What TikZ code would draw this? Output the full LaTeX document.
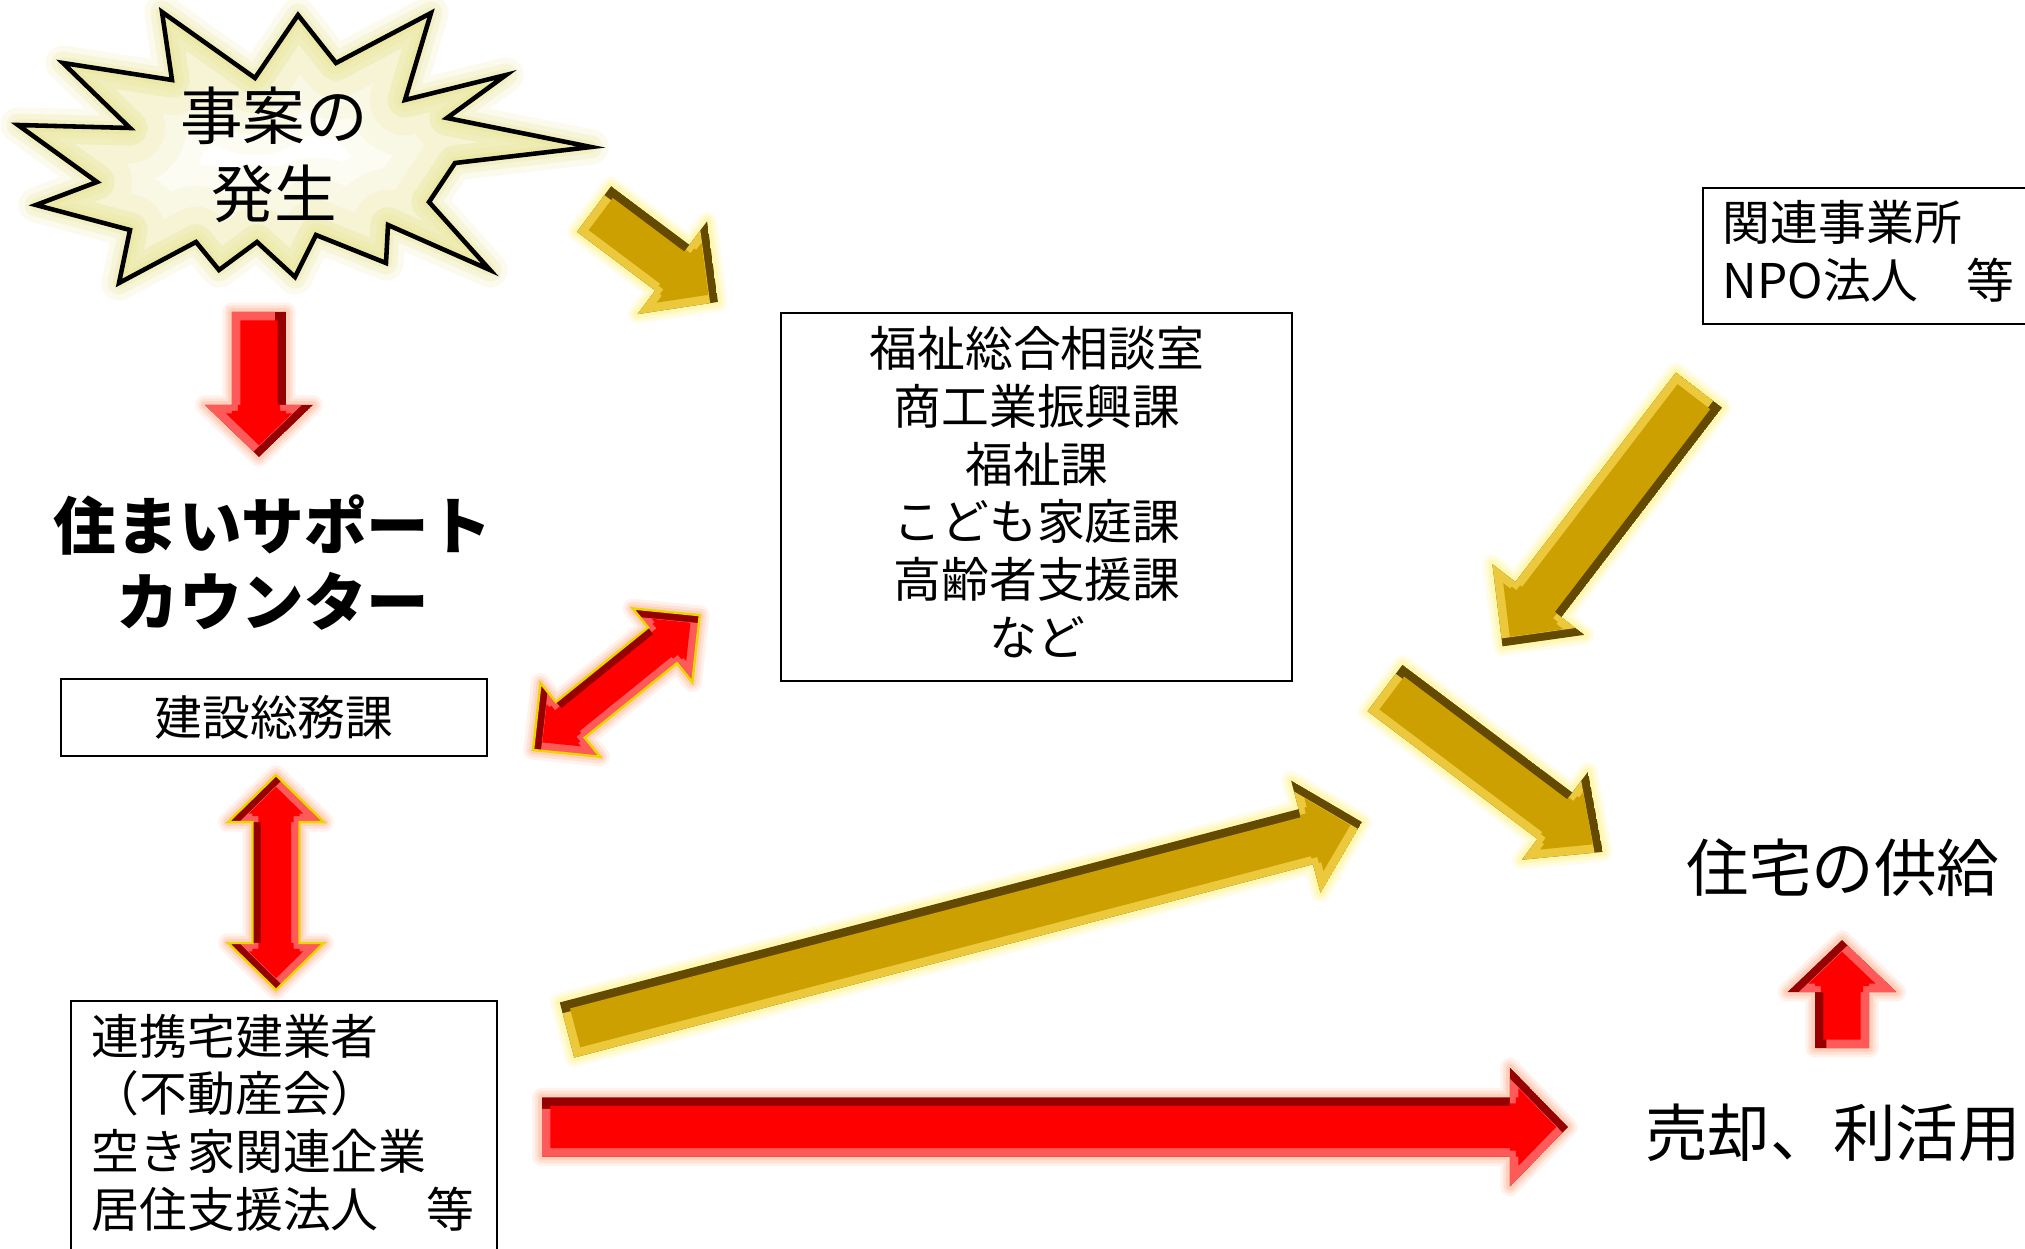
\documentclass[tikz,border=0pt]{standalone}
\usepackage{fontspec}
\setmainfont{Noto Sans CJK JP}
\usetikzlibrary{calc}
\definecolor{goldmain}{RGB}{204,160,0}
\definecolor{golddark}{RGB}{100,74,0}
\definecolor{goldlight}{RGB}{236,200,60}
\definecolor{goldglow}{RGB}{255,245,140}
\definecolor{redmain}{RGB}{255,0,0}
\definecolor{reddark}{RGB}{150,0,0}
\definecolor{redlight}{RGB}{255,90,90}
\definecolor{redglow}{RGB}{255,185,155}
\definecolor{burstglow}{RGB}{232,228,140}
\definecolor{edgeyellow}{RGB}{235,215,0}
\newcommand\fsS{\fontsize{13.6pt}{16.4pt}\selectfont}
\newcommand\fsL{\fontsize{17.8pt}{21.6pt}\selectfont}
\newcommand\fsB{\fontsize{17.8pt}{22pt}\selectfont}
% single block arrow outline: #1 tail, #2 tip, #3 shaft px, #4 head px, #5 head length px, #6 local shift
\newcommand\polyS[6]{let \p1=($(#2)-(#1)$), \n1={veclen(\x1,\y1)}, \n2={atan2(\y1,\x1)} in
  [shift={(#1)}, rotate=\n2, shift={(#6)}]
  (0pt,{#3*0.14226pt}) -- ({\n1-#5*0.28453pt},{#3*0.14226pt}) -- ({\n1-#5*0.28453pt},{#4*0.14226pt}) -- (\n1,0pt) -- ({\n1-#5*0.28453pt},{-#4*0.14226pt}) -- ({\n1-#5*0.28453pt},{-#3*0.14226pt}) -- (0pt,{-#3*0.14226pt}) -- cycle}
% double block arrow outline
\newcommand\polyD[6]{let \p1=($(#2)-(#1)$), \n1={veclen(\x1,\y1)}, \n2={atan2(\y1,\x1)} in
  [shift={(#1)}, rotate=\n2, shift={(#6)}]
  (0pt,0pt) -- ({#5*0.28453pt},{#4*0.14226pt}) -- ({#5*0.28453pt},{#3*0.14226pt}) -- ({\n1-#5*0.28453pt},{#3*0.14226pt}) -- ({\n1-#5*0.28453pt},{#4*0.14226pt}) -- (\n1,0pt) -- ({\n1-#5*0.28453pt},{-#4*0.14226pt}) -- ({\n1-#5*0.28453pt},{-#3*0.14226pt}) -- ({#5*0.28453pt},{-#3*0.14226pt}) -- ({#5*0.28453pt},{-#4*0.14226pt}) -- cycle}
% bevelled, glowing block arrow
\newcommand\bevelarrow[8]{%
  \foreach \gw/\go in {5.5/0.18,3.8/0.28,2.2/0.4}
    {\draw[#1glow, line width=\gw pt, opacity=\go, line join=round] #2{#3}{#4}{#5}{#6}{#7}{0pt,0pt};}
  \begin{scope}
    \clip #2{#3}{#4}{#5}{#6}{#7}{0pt,0pt};
    \fill[#1dark] #2{#3}{#4}{#5}{#6}{#7}{0pt,0pt};
    \fill[#1light] #2{#3}{#4}{#5}{#6}{#7}{0pt,-3.2pt};
    \begin{scope}
      \clip #2{#3}{#4}{#5}{#6}{#7}{2.4pt,0pt};
      \clip #2{#3}{#4}{#5}{#6}{#7}{-2.4pt,0pt};
      \clip #2{#3}{#4}{#5}{#6}{#7}{0pt,2.4pt};
      \clip #2{#3}{#4}{#5}{#6}{#7}{0pt,-2.4pt};
      \clip #2{#3}{#4}{#5}{#6}{#7}{1.7pt,1.7pt};
      \clip #2{#3}{#4}{#5}{#6}{#7}{-1.7pt,1.7pt};
      \clip #2{#3}{#4}{#5}{#6}{#7}{1.7pt,-1.7pt};
      \clip #2{#3}{#4}{#5}{#6}{#7}{-1.7pt,-1.7pt};
      \fill[#1main] #2{#3}{#4}{#5}{#6}{#7}{0pt,0pt};
    \end{scope}
  \end{scope}
  \draw[#8] #2{#3}{#4}{#5}{#6}{#7}{0pt,0pt};
}
\def\burstpath{(162,12) -- (172,80) -- (63,63) -- (130,128) -- (18,125) -- (97,182) -- (36,205) -- (130,230) -- (119,283) -- (196,242) -- (219,270) -- (257,242) -- (295,277) -- (316,235) -- (386,263) -- (388,225) -- (490,270) -- (429,202) -- (455,163) -- (591,147) -- (447,118) -- (506,75) -- (405,100) -- (431,13) -- (336,63) -- (298,15) -- (255,78) -- cycle}
\tikzset{
  box/.style={draw, line width=0.6pt, inner sep=0pt},
  label/.style={inner sep=0pt},
}
\begin{document}
\begin{tikzpicture}[x=0.01cm, y=-0.01cm]
\useasboundingbox (0,0) rectangle (2025,1249);
\fill[white] (0,0) rectangle (2025,1249);
% starburst
\foreach \gw/\go in {10/0.15,6.5/0.2,3.5/0.25}
  {\draw[burstglow, line width=\gw pt, opacity=\go, line join=round] \burstpath;}
\begin{scope}
  \clip \burstpath;
  \foreach \gw/\go in {44/0.1,32/0.13,20/0.17,10/0.2}
    {\draw[burstglow, line width=\gw pt, opacity=\go, line join=round] \burstpath;}
\end{scope}
\draw[black, line width=1.3pt, line join=miter] \burstpath;
\node[label, font=\fsB, align=center] (burst) at (274,155) {事案の\\発生};
% text nodes
\node[label, font=\fsL\bfseries, align=center] (title) at (273,563) {住まいサポート\\カウンター};
\node[box, minimum width=4.26cm, minimum height=0.77cm, font=\fsS] (kensetsu) at (274,717.5) {建設総務課};
\node[box, minimum width=5.11cm, minimum height=3.68cm] (fukushi) at (1036.5,497) {};
\node[label, font=\fsS, align=center] (fukushitext) at (1037,492) {福祉総合相談室\\商工業振興課\\福祉課\\こども家庭課\\高齢者支援課\\など};
\node[box, anchor=north west, minimum width=3.6cm, minimum height=1.36cm] (jigyosho) at (1702,187) {};
\node[label, font=\fsS, align=left, anchor=west] (jigyoshotext) at (1722,251.5) {関連事業所\\NPO法人　等};
\node[box, anchor=north west, minimum width=4.26cm, minimum height=2.8cm] (renkei) at (70,1000) {};
\node[label, font=\fsS, align=left, anchor=west] (renkeitext) at (91,1122.5) {連携宅建業者\\（不動産会）\\空き家関連企業\\居住支援法人　等};
\node[label, font=\fsL] (jutaku) at (1843,868) {住宅の供給};
\node[label, font=\fsL] (baikyaku) at (1833,1133) {売却、利活用};
% arrow end points
\coordinate (a1) at (259,312);  \coordinate (a2) at (259,457);
\coordinate (b1) at (533,750);  \coordinate (b2) at (700,615);
\coordinate (c1) at (276,990);  \coordinate (c2) at (276,775);
\coordinate (d1) at (594,209);  \coordinate (d2) at (718,302);
\coordinate (e1) at (1699,390); \coordinate (e2) at (1502,647);
\coordinate (f1) at (1385,688); \coordinate (f2) at (1603,852);
\coordinate (g1) at (567,1030); \coordinate (g2) at (1362,822);
\coordinate (h1) at (542,1127); \coordinate (h2) at (1568,1127);
\coordinate (i1) at (1842,1048); \coordinate (i2) at (1842,940);
% arrows
\bevelarrow{red}{\polyS}{a1}{a2}{54}{108}{52}{draw=none}
\bevelarrow{red}{\polyD}{b1}{b2}{46}{95}{48}{edgeyellow, line width=0.7pt}
\bevelarrow{red}{\polyD}{c1}{c2}{47}{96}{47}{edgeyellow, line width=0.7pt}
\bevelarrow{gold}{\polyS}{d1}{d2}{57}{116}{57}{draw=none}
\bevelarrow{gold}{\polyS}{e1}{e2}{58}{116}{59}{draw=none}
\bevelarrow{gold}{\polyS}{f1}{f2}{58}{110}{60}{draw=none}
\bevelarrow{gold}{\polyS}{g1}{g2}{57}{116}{58}{draw=none}
\bevelarrow{red}{\polyS}{h1}{h2}{59}{119}{58}{draw=none}
\bevelarrow{red}{\polyS}{i1}{i2}{54}{109}{52}{draw=none}
\end{tikzpicture}
\end{document}
